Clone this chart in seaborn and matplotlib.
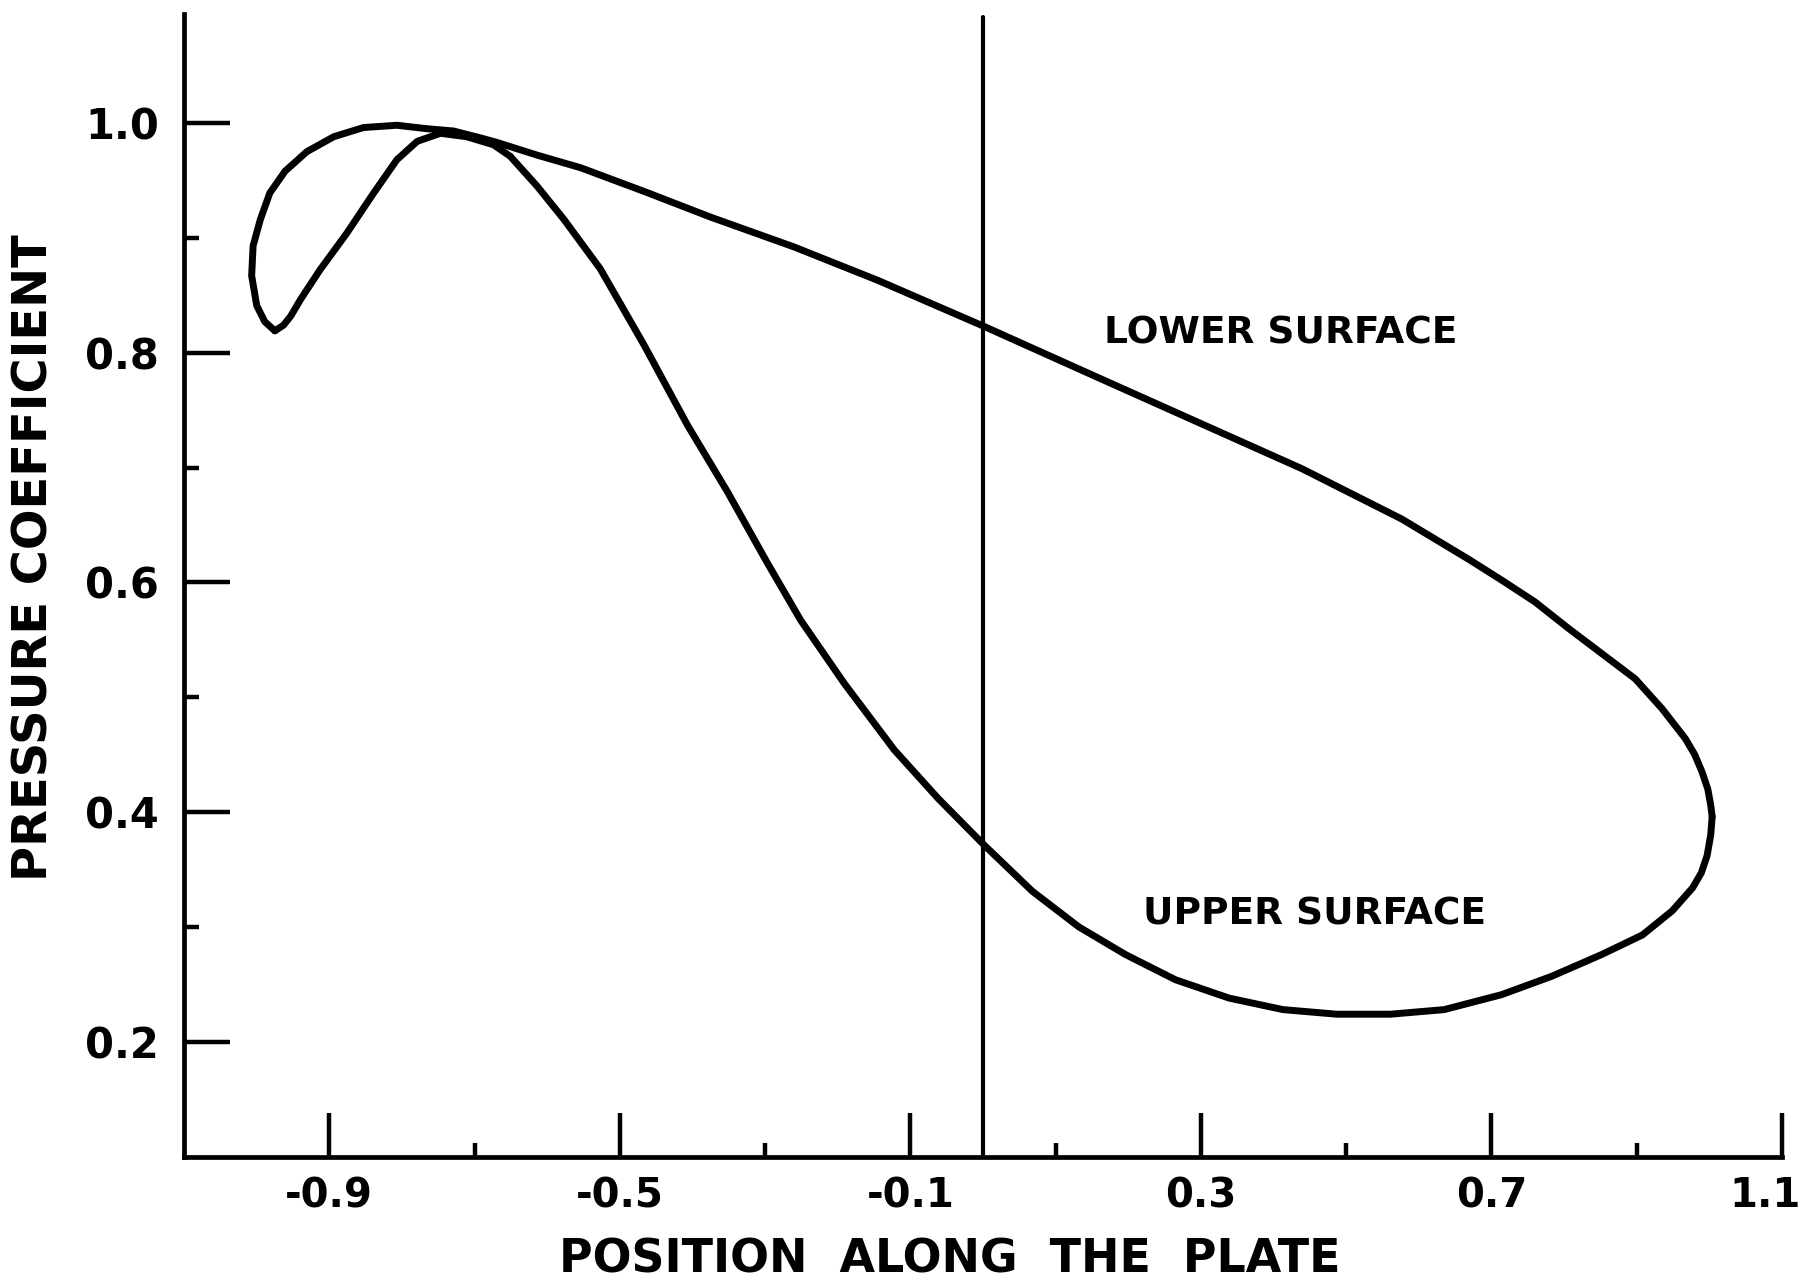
import matplotlib
matplotlib.use("Agg")
import matplotlib.pyplot as plt
import matplotlib.transforms as mtransforms
import seaborn as sns
import pandas as pd
from matplotlib.ticker import FixedLocator

# ---- data ----
lower_x = [-0.975, -0.989, -1.000, -1.007, -1.005, -0.995, -0.982, -0.961, -0.931,
           -0.894, -0.853, -0.807, -0.766, -0.729, -0.692, -0.669, -0.614, -0.554,
           -0.465, -0.375, -0.260, -0.145, 0.001, 0.163, 0.301, 0.439, 0.577,
           0.669, 0.714, 0.760, 0.806, 0.852, 0.898, 0.935, 0.967, 0.980, 0.990,
           0.998, 1.002, 1.004]
lower_y = [0.819, 0.827, 0.841, 0.867, 0.893, 0.916, 0.939, 0.958, 0.975,
           0.988, 0.996, 0.998, 0.995, 0.993, 0.987, 0.983, 0.972, 0.961,
           0.940, 0.918, 0.892, 0.863, 0.823, 0.777, 0.738, 0.699, 0.655,
           0.620, 0.602, 0.583, 0.560, 0.538, 0.516, 0.490, 0.464, 0.450, 0.435,
           0.420, 0.406, 0.396]

upper_x = [-0.975, -0.963, -0.953, -0.940, -0.913, -0.876, -0.839, -0.807, -0.779,
           -0.747, -0.711, -0.674, -0.651, -0.614, -0.577, -0.527, -0.467, -0.407,
           -0.352, -0.297, -0.251, -0.191, -0.122, -0.062, 0.002, 0.068, 0.132,
           0.196, 0.265, 0.339, 0.413, 0.487, 0.561, 0.635, 0.714, 0.783, 0.852,
           0.908, 0.949, 0.977, 0.989, 0.997, 1.002, 1.004]
upper_y = [0.819, 0.824, 0.832, 0.846, 0.872, 0.904, 0.939, 0.968, 0.984,
           0.991, 0.988, 0.981, 0.971, 0.945, 0.916, 0.873, 0.807, 0.737,
           0.679, 0.617, 0.567, 0.512, 0.454, 0.412, 0.371, 0.331, 0.300,
           0.276, 0.254, 0.238, 0.228, 0.224, 0.224, 0.228, 0.241, 0.257, 0.276,
           0.293, 0.314, 0.334, 0.347, 0.362, 0.380, 0.396]

x_major = [-0.9, -0.5, -0.1, 0.3, 0.7, 1.1]
x_minor = [-0.7, -0.3, 0.1, 0.5, 0.9]
y_major = [0.2, 0.4, 0.6, 0.8, 1.0]
y_minor = [0.3, 0.5, 0.7, 0.9]
x_ticklabels = ["-0.9", "-0.5", "-0.1", "0.3", "0.7", "1.1"]
y_ticklabels = ["0.2", "0.4", "0.6", "0.8", "1.0"]

surface_labels = ["LOWER SURFACE", "UPPER SURFACE"]
label_pos = [(0.41, 0.817), (0.457, 0.311)]
xlabel = "POSITION  ALONG  THE  PLATE"
ylabel = "PRESSURE COEFFICIENT"
ref_line_x = 0.0

# ---- styling ----
sns.set_style("ticks")
plt.rcParams["font.family"] = ["DejaVu Sans"]
plt.rcParams["text.color"] = "black"
plt.rcParams["axes.labelcolor"] = "black"
plt.rcParams["xtick.color"] = "black"
plt.rcParams["ytick.color"] = "black"
plt.rcParams["xtick.labelcolor"] = "black"
plt.rcParams["ytick.labelcolor"] = "black"

fig = plt.figure(figsize=(18.05, 12.82), dpi=100)
ax = fig.add_axes([0.1020, 0.0978, 0.8852, 0.8914])

lower_df = pd.DataFrame({"x": lower_x, "y": lower_y})
upper_df = pd.DataFrame({"x": upper_x, "y": upper_y})
for df in (lower_df, upper_df):
    sns.lineplot(data=df, x="x", y="y", sort=False, estimator=None,
                 color="black", lw=5.0, ax=ax,
                 solid_joinstyle="round", solid_capstyle="round")

ax.axvline(ref_line_x, ymin=0, ymax=0.997, color="black", lw=3.0)

ax.set_xlim(-1.1, 1.1)
ax.set_ylim(0.1, 1.095)

for s in ["top", "right"]:
    ax.spines[s].set_visible(False)
for s in ["left", "bottom"]:
    ax.spines[s].set_linewidth(3.4)
    ax.spines[s].set_color("black")

ax.xaxis.set_major_locator(FixedLocator(x_major))
ax.xaxis.set_minor_locator(FixedLocator(x_minor))
ax.yaxis.set_major_locator(FixedLocator(y_major))
ax.yaxis.set_minor_locator(FixedLocator(y_minor))
ax.set_xticklabels(x_ticklabels, fontweight="bold")
ax.set_yticklabels(y_ticklabels, fontweight="bold")

ax.tick_params(axis="x", which="major", direction="in", length=32, width=3.2,
               labelsize=29, pad=14)
ax.tick_params(axis="x", which="minor", direction="in", length=10, width=3.2)
ax.tick_params(axis="y", which="major", direction="in", length=33, width=3.2,
               labelsize=30, pad=18)
ax.tick_params(axis="y", which="minor", direction="in", length=11, width=3.2)

# nudge the last x tick label slightly left so it stays inside the figure
last_lbl = ax.get_xticklabels()[-1]
last_lbl.set_transform(last_lbl.get_transform() +
                       mtransforms.ScaledTranslation(-12 / 72, 0, fig.dpi_scale_trans))

ax.set_xlabel(xlabel, fontsize=33, fontweight="bold")
ax.xaxis.set_label_coords(0.479, -0.071)
ax.set_ylabel(ylabel, fontsize=34.5, fontweight="bold")
ax.yaxis.set_label_coords(-0.079, 0.524)

for txt, (tx, ty) in zip(surface_labels, label_pos):
    ax.text(tx, ty, txt, fontsize=27, fontweight="bold", ha="center",
            va="center", color="black")

ax.grid(False)
fig.savefig("out.png", dpi=100, facecolor="white")
